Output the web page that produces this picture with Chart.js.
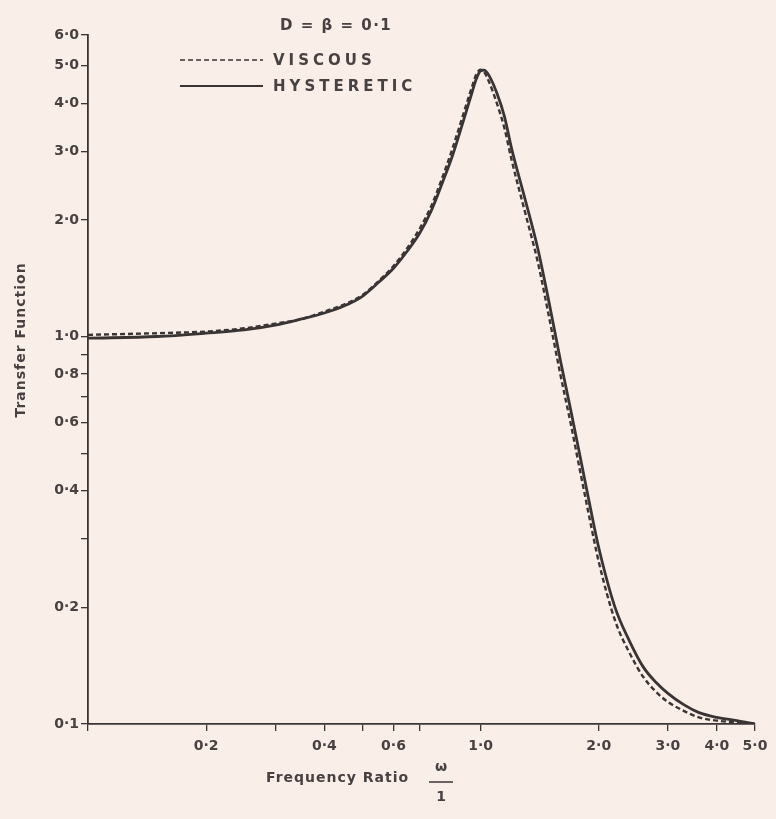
<!DOCTYPE html>
<html>
<head>
<meta charset="utf-8">
<script src="https://cdn.jsdelivr.net/npm/chart.js@4/dist/chart.umd.min.js"></script>
<style>
  html, body { margin: 0; padding: 0; background: #faeee8; }
  #wrap { width: 776px; height: 819px; position: relative; }
</style>
</head>
<body>
<div id="wrap"><canvas id="myChart"></canvas></div>
<script>
// frequency ratio (x) and transfer function readings for D = beta = 0.1
const freqRatio = [0.1, 0.15, 0.2, 0.25, 0.3, 0.35, 0.4, 0.45, 0.5, 0.55, 0.6, 0.65, 0.7, 0.75, 0.8, 0.85, 0.9, 0.95, 0.975, 1.0, 1.02,
  1.05, 1.1, 1.15, 1.2, 1.3, 1.4, 1.5, 1.6, 1.7, 1.8, 1.9, 2.0, 2.2, 2.4, 2.6, 2.8, 3.0, 3.3, 3.6, 4.0, 4.5, 5.0];
const viscous = [1.01, 1.02, 1.03, 1.05, 1.08, 1.11, 1.16, 1.21, 1.28, 1.39, 1.52, 1.69, 1.90, 2.18, 2.58, 3.08, 3.70, 4.40, 4.75, 4.88, 4.82,
  4.55, 4.00, 3.45, 2.85, 2.08, 1.55, 1.10, 0.79, 0.59, 0.44, 0.335, 0.262, 0.185, 0.152, 0.132, 0.121, 0.114, 0.108, 0.104, 0.102, 0.101, 0.100];
const hysteretic = [0.99, 1.00, 1.02, 1.04, 1.07, 1.11, 1.15, 1.20, 1.27, 1.38, 1.50, 1.66, 1.85, 2.12, 2.50, 2.95, 3.55, 4.25, 4.62, 4.85, 4.87,
  4.72, 4.25, 3.70, 3.05, 2.25, 1.68, 1.20, 0.86, 0.64, 0.48, 0.365, 0.285, 0.20, 0.163, 0.14, 0.128, 0.12, 0.112, 0.107, 0.104, 0.102, 0.100];

const xTicks = [0.1, 0.2, 0.3, 0.4, 0.5, 0.6, 0.7, 1.0, 2.0, 3.0, 4.0, 5.0];
const xTickLabels = ['', '0·2', '', '0·4', '', '0·6', '', '1·0', '2·0', '3·0', '4·0', '5·0'];
const yTicks = [0.1, 0.2, 0.3, 0.4, 0.5, 0.6, 0.7, 0.8, 0.9, 1.0, 2.0, 3.0, 4.0, 5.0, 6.0];
const yTickLabels = ['0·1', '0·2', '', '0·4', '', '0·6', '', '0·8', '', '1·0', '2·0', '3·0', '4·0', '5·0', '6·0'];

const ink = '#3a3535';
const textInk = '#474141';
const fontFamily = "'DejaVu Sans', sans-serif";

const toPoints = (ys) => freqRatio.map((x, i) => ({ x: x, y: ys[i] }));

// legend + axis titles drawn by hand so they sit where the original figure has them
const figureText = {
  id: 'figureText',
  afterDraw(chart) {
    const c = chart.ctx;
    c.save();
    c.fillStyle = textInk;
    c.strokeStyle = ink;
    c.textBaseline = 'middle';
    c.textAlign = 'left';
    c.font = 'bold 15px ' + fontFamily;
    c.letterSpacing = '1.5px';
    c.fillText('D = β = 0·1', 280, 26);

    const rows = [60, 86];
    chart.data.datasets.forEach((ds, i) => {
      c.beginPath();
      c.lineWidth = ds.legendWidth;
      c.setLineDash(ds.borderDash || []);
      c.moveTo(180, rows[i]);
      c.lineTo(263, rows[i]);
      c.stroke();
      c.setLineDash([]);
      c.letterSpacing = '4px';
      c.fillText(ds.label, 273, rows[i] + 1);
    });

    // y title
    c.letterSpacing = '1px';
    c.font = 'bold 14px ' + fontFamily;
    c.save();
    c.translate(21, 340);
    c.rotate(-Math.PI / 2);
    c.textAlign = 'center';
    c.fillText('Transfer Function', 0, 0);
    c.restore();

    // x title with fraction
    c.textAlign = 'left';
    c.fillText('Frequency Ratio', 266, 778);
    c.textAlign = 'center';
    c.letterSpacing = '0px';
    c.font = 'bold 14px ' + fontFamily;
    c.fillText('ω', 441, 767);
    c.fillText('1', 441, 797);
    c.beginPath();
    c.lineWidth = 1.5;
    c.moveTo(429, 782);
    c.lineTo(453, 782);
    c.stroke();
    c.restore();
  }
};

new Chart(document.getElementById('myChart'), {
  type: 'line',
  data: {
    datasets: [
      {
        label: 'VISCOUS',
        data: toPoints(viscous),
        borderColor: ink,
        borderWidth: 2.4,
        legendWidth: 1.6,
        borderDash: [5, 3],
        pointRadius: 0,
        cubicInterpolationMode: 'monotone'
      },
      {
        label: 'HYSTERETIC',
        data: toPoints(hysteretic),
        borderColor: ink,
        borderWidth: 2.8,
        legendWidth: 2,
        pointRadius: 0,
        cubicInterpolationMode: 'monotone'
      }
    ]
  },
  options: {
    responsive: true,
    maintainAspectRatio: false,
    animation: false,
    layout: { padding: { left: 0, top: 35, right: 21, bottom: 0 } },
    plugins: {
      legend: { display: false },
      tooltip: { enabled: false }
    },
    scales: {
      x: {
        type: 'logarithmic',
        min: 0.1,
        max: 5.0,
        afterBuildTicks: (axis) => { axis.ticks = xTicks.map(v => ({ value: v })); },
        afterFit: (axis) => { axis.height = 95; },
        grid: { drawOnChartArea: false, color: ink, lineWidth: 1.3, tickLength: 7 },
        border: { color: ink, width: 1.8 },
        ticks: {
          autoSkip: false,
          maxRotation: 0,
          padding: 7,
          color: textInk,
          font: { family: fontFamily, size: 14, weight: 'bold' },
          callback: (value, i) => xTickLabels[i]
        }
      },
      y: {
        type: 'logarithmic',
        min: 0.1,
        max: 6.0,
        afterBuildTicks: (axis) => { axis.ticks = yTicks.map(v => ({ value: v })); },
        afterFit: (axis) => { axis.width = 88; },
        grid: { drawOnChartArea: false, color: ink, lineWidth: 1.3, tickLength: 7 },
        border: { color: ink, width: 1.8 },
        ticks: {
          autoSkip: false,
          padding: 2,
          color: textInk,
          font: { family: fontFamily, size: 14, weight: 'bold' },
          callback: (value, i) => yTickLabels[i]
        }
      }
    }
  },
  plugins: [figureText]
});
</script>
</body>
</html>
